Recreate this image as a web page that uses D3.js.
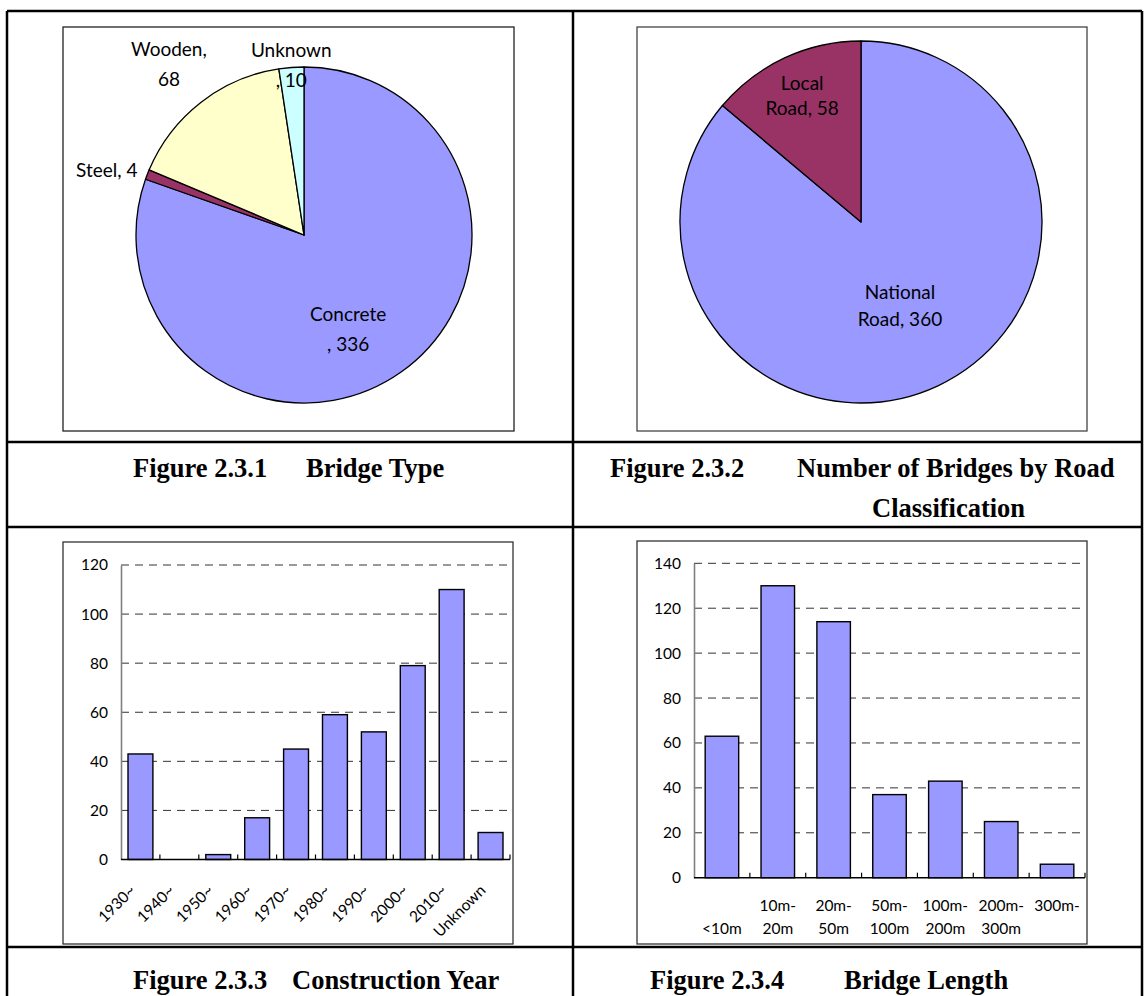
<!DOCTYPE html>
<html>
<head>
<meta charset="utf-8">
<script src="https://d3js.org/d3.v7.min.js"></script>
<style>
  html, body { margin: 0; padding: 0; background: #fff; }
  svg { display: block; }
</style>
</head>
<body>
<svg id="page" width="1144" height="996"></svg>
<script>
// ---- data ----
const typeNames = ["Concrete", "Steel", "Wooden", "Unknown"];
const typeCounts = [336, 4, 68, 10];

const roadNames = ["National Road", "Local Road"];
const roadCounts = [360, 58];

const yearLabels = ["1930~", "1940~", "1950~", "1960~", "1970~", "1980~", "1990~", "2000~", "2010~", "Unknown"];
const yearCounts = [43, 0, 2, 17, 45, 59, 52, 79, 110, 11];
const yearTicks = [0, 20, 40, 60, 80, 100, 120];

const lengthLabels = ["<10m", "10m-20m", "20m-50m", "50m-100m", "100m-200m", "200m-300m", "300m-"];
const lengthCounts = [63, 130, 114, 37, 43, 25, 6];
const lengthTicks = [0, 20, 40, 60, 80, 100, 120, 140];

const captions = [
  ["Figure 2.3.1", "Bridge Type"],
  ["Figure 2.3.2", "Number of Bridges by Road", "Classification"],
  ["Figure 2.3.3", "Construction Year"],
  ["Figure 2.3.4", "Bridge Length"]
];

// ---- styling ----
const LABEL_FONT = "Lato, 'Open Sans', sans-serif";
const CAPTION_FONT = "'Liberation Serif', 'Times New Roman', serif";
const BAR_FILL = "#9999FF";

const svg = d3.select("#page");

// ---- table frame ----
const table = svg.append("g").attr("stroke", "#000").attr("stroke-width", 2.5);
[[7, 11, 1142, 11], [7, 442, 1142, 442], [7, 527, 1142, 527], [7, 947, 1142, 947],
 [7, 11, 7, 996], [573, 11, 573, 996], [1142, 11, 1142, 996]]
  .forEach(([x1, y1, x2, y2]) => table.append("line")
    .attr("x1", x1).attr("y1", y1).attr("x2", x2).attr("y2", y2));

// chart frames
function frame(x0, y0, x1, y1, color) {
  svg.append("rect").attr("x", x0).attr("y", y0)
    .attr("width", x1 - x0).attr("height", y1 - y0)
    .attr("fill", "#fff").attr("stroke", color).attr("stroke-width", 1.3);
}
frame(63, 27, 514, 431, "#222");
frame(637, 27, 1087, 431, "#444");
frame(63, 542, 513, 944, "#333");
frame(637, 541, 1087, 944, "#333");

// ---- pie charts ----
function pieChart(cx, cy, r, names, values, colors, labelLayout) {
  const g = svg.append("g").attr("transform", `translate(${cx},${cy})`);
  const rows = names.map((n, i) => ({ name: n, value: values[i], color: colors[i] }));
  const arcs = d3.pie().sort(null).value(d => d.value)(rows);
  const arc = d3.arc().innerRadius(0).outerRadius(r);
  g.selectAll("path.slice").data(arcs).join("path")
    .attr("class", "slice")
    .attr("d", arc)
    .attr("fill", d => d.data.color)
    .attr("stroke", "#000")
    .attr("stroke-width", 1.3)
    .attr("stroke-linejoin", "round");

  arcs.forEach(d => {
    const lay = labelLayout[d.data.name];
    const mid = (d.startAngle + d.endAngle) / 2;
    const rr = r * lay.k;
    const x = rr * Math.sin(mid) + (lay.dx || 0);
    const y = -rr * Math.cos(mid) + (lay.dy || 0);
    const full = `${d.data.name}, ${d.data.value}`;
    const lines = lay.split ? [full.slice(0, lay.split).trim(), full.slice(lay.split).trim()] : [full];
    const lh = lay.lh || 30;
    const t = g.append("text")
      .attr("text-anchor", "middle")
      .attr("font-family", LABEL_FONT)
      .attr("font-size", 19)
      .attr("fill", "#000");
    lines.forEach((ln, i) => {
      t.append("tspan")
        .attr("x", x)
        .attr("y", y + (i - (lines.length - 1) / 2) * lh)
        .attr("dy", "0.35em")
        .text(ln);
    });
  });
}

pieChart(304, 235, 168, typeNames, typeCounts,
  ["#9999FF", "#993366", "#FFFFCC", "#CCFFFF"],
  {
    "Concrete": { k: 0.62, dx: -16, dy: 9, split: 8 },
    "Steel": { k: 1.22, dx: -6, dy: 9 },
    "Wooden": { k: 1.29, dx: -2, split: 7 },
    "Unknown": { k: 1.01, split: 7 }
  });

pieChart(861, 222, 181, roadNames, roadCounts,
  ["#9999FF", "#993366"],
  {
    "National Road": { k: 0.51, split: 8, lh: 27 },
    "Local Road": { k: 0.77, split: 5, lh: 25 }
  });

// ---- bar charts ----
function barChart(opts) {
  const { labels, values, ticks, x0, x1, yTop, yBottom, padIn, rotate } = opts;
  const g = svg.append("g");
  const x = d3.scaleBand().domain(labels).range([x0, x1])
    .paddingInner(padIn).paddingOuter(padIn / 2);
  const y = d3.scaleLinear().domain([0, d3.max(ticks)]).range([yBottom, yTop]);

  // dashed gridlines
  g.append("g").selectAll("line").data(ticks.filter(t => t > 0)).join("line")
    .attr("x1", x0).attr("x2", x1)
    .attr("y1", d => y(d)).attr("y2", d => y(d))
    .attr("stroke", "#333").attr("stroke-width", 1)
    .attr("stroke-dasharray", "8,6");

  // y axis
  const yAxis = g.append("g").attr("transform", `translate(${x0},0)`)
    .call(d3.axisLeft(y).tickValues(ticks).tickSize(0).tickPadding(13));
  yAxis.select(".domain").attr("stroke", "#808080").attr("stroke-width", 1.6);
  yAxis.selectAll("text").attr("font-family", LABEL_FONT).attr("font-size", 15.5).attr("fill", "#000");

  // bars
  g.append("g").selectAll("rect").data(values).join("rect")
    .attr("x", (d, i) => x(labels[i]))
    .attr("width", x.bandwidth())
    .attr("y", d => y(d))
    .attr("height", d => y(0) - y(d))
    .attr("fill", BAR_FILL)
    .attr("stroke", "#000")
    .attr("stroke-width", 1.4);

  // x axis line with inside tick marks at category boundaries
  g.append("line").attr("x1", x0).attr("x2", x1)
    .attr("y1", y(0)).attr("y2", y(0))
    .attr("stroke", "#000").attr("stroke-width", 1.4);
  const step = x.step();
  g.append("g").selectAll("line").data(d3.range(1, labels.length + 1)).join("line")
    .attr("x1", i => x0 + i * step).attr("x2", i => x0 + i * step)
    .attr("y1", y(0)).attr("y2", y(0) - 5)
    .attr("stroke", "#000").attr("stroke-width", 1.2);

  // category labels
  const cx = l => x(l) + x.bandwidth() / 2;
  if (rotate) {
    g.append("g").selectAll("text").data(labels).join("text")
      .attr("transform", l => `translate(${cx(l) - 4},${y(0) + 32}) rotate(-45)`)
      .attr("text-anchor", "end")
      .attr("font-family", LABEL_FONT).attr("font-size", 15.5).attr("fill", "#000")
      .text(l => l);
  } else {
    labels.forEach(l => {
      const dash = l.indexOf("-");
      const lines = dash >= 0 ? [l.slice(0, dash + 1), l.slice(dash + 1)] : ["", l];
      lines.forEach((ln, i) => {
        if (!ln) return;
        g.append("text")
          .attr("x", cx(l))
          .attr("y", y(0) + 33 + i * 23)
          .attr("text-anchor", "middle")
          .attr("font-family", LABEL_FONT).attr("font-size", 15.5).attr("fill", "#000")
          .text(ln);
      });
    });
  }
}

barChart({ labels: yearLabels, values: yearCounts, ticks: yearTicks,
  x0: 121, x1: 510, yTop: 565, yBottom: 859.5, padIn: 0.36, rotate: true });

barChart({ labels: lengthLabels, values: lengthCounts, ticks: lengthTicks,
  x0: 694, x1: 1085, yTop: 563.3, yBottom: 877.7, padIn: 0.4, rotate: false });

// ---- captions ----
// figure number, then the title at its tab stop
function caption(x, y, num, title, titleX, extra, extraX) {
  const t = svg.append("text")
    .attr("font-family", CAPTION_FONT).attr("font-weight", "bold")
    .attr("font-size", 26.5).attr("fill", "#000");
  t.append("tspan").attr("x", x).attr("y", y).text(num);
  t.append("tspan").attr("x", titleX).attr("y", y).text(title);
  if (extra) t.append("tspan").attr("x", extraX).attr("y", y + 40).text(extra);
}
caption(133, 477, captions[0][0], captions[0][1], 306);
caption(610, 477, captions[1][0], captions[1][1], 797, captions[1][2], 872);
caption(133, 989, captions[2][0], captions[2][1], 292);
caption(650, 989, captions[3][0], captions[3][1], 844);
</script>
</body>
</html>
